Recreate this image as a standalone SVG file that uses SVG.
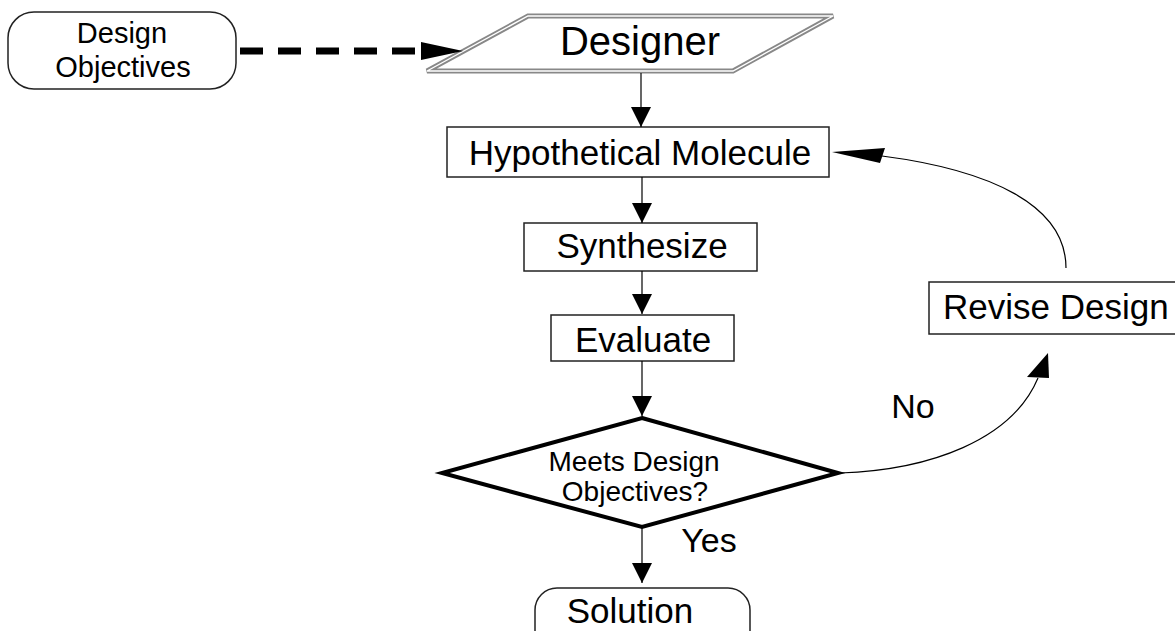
<svg xmlns="http://www.w3.org/2000/svg" width="1175" height="631" viewBox="0 0 1175 631">
  <style>
    .box { fill: #fff; stroke: #222; stroke-width: 1.5; }
    .lbl { font-family: "Liberation Sans", Arial, Helvetica, sans-serif; fill: #000; text-anchor: middle; }
    .wire { fill: none; stroke: #000; stroke-width: 1.2; }
    .head { fill: #000; stroke: none; }
  </style>
  <defs>
    <marker id="arrow" markerUnits="userSpaceOnUse" markerWidth="20" markerHeight="20" refX="20" refY="10" orient="auto">
      <path d="M0,0 L20,10 L0,20 z" fill="#000"/>
    </marker>
  </defs>
  <rect width="1175" height="631" fill="#fff"/>

  <!-- nodes -->
  <g id="design-objectives">
    <rect class="box" x="8" y="12" width="228" height="77" rx="26" ry="26"/>
    <text class="lbl" x="122" y="43" font-size="29">Design</text>
    <text class="lbl" x="123" y="77" font-size="29">Objectives</text>
  </g>

  <g id="designer">
    <polygon points="528,16 833,16 733,71 427,71" fill="#fff" stroke="#888" stroke-width="5" stroke-linejoin="miter"/>
    <polygon points="528,16 833,16 733,71 427,71" fill="none" stroke="#fff" stroke-width="1.4" stroke-linejoin="miter"/>
    <text class="lbl" x="640" y="55" font-size="40">Designer</text>
  </g>

  <g id="hypothetical-molecule">
    <rect class="box" x="447" y="127" width="382" height="50"/>
    <text class="lbl" x="640" y="165" font-size="35">Hypothetical Molecule</text>
  </g>

  <g id="synthesize">
    <rect class="box" x="524" y="223" width="233" height="48"/>
    <text class="lbl" x="642" y="258" font-size="35">Synthesize</text>
  </g>

  <g id="evaluate">
    <rect class="box" x="551" y="315" width="183" height="46"/>
    <text class="lbl" x="643" y="352" font-size="35">Evaluate</text>
  </g>

  <g id="meets-objectives">
    <polygon points="642,418 838,473 642,527 442,473" fill="#fff" stroke="#000" stroke-width="4" stroke-linejoin="miter"/>
    <text class="lbl" x="634" y="471" font-size="28">Meets Design</text>
    <text class="lbl" x="635" y="501" font-size="28">Objectives?</text>
  </g>

  <g id="revise-design">
    <rect class="box" x="929" y="282" width="260" height="52"/>
    <text class="lbl" x="943" y="319" font-size="35" style="text-anchor:start">Revise Design</text>
  </g>

  <g id="solution">
    <rect class="box" x="535" y="588" width="215" height="70" rx="22" ry="22"/>
    <text class="lbl" x="630" y="623" font-size="35">Solution</text>
  </g>

  <!-- connectors -->
  <g id="connectors">
    <line x1="240" y1="51" x2="422" y2="51" stroke="#000" stroke-width="7" stroke-dasharray="23 15"/>
    <polygon class="head" points="421,42 463,51 421,60"/>

    <line class="wire" x1="641" y1="73" x2="641" y2="127" marker-end="url(#arrow)"/>
    <line class="wire" x1="642" y1="177" x2="642" y2="223" marker-end="url(#arrow)"/>
    <line class="wire" x1="642" y1="271" x2="642" y2="314" marker-end="url(#arrow)"/>
    <line class="wire" x1="642" y1="361" x2="642" y2="416" marker-end="url(#arrow)"/>
    <line class="wire" x1="642" y1="527" x2="642" y2="583" marker-end="url(#arrow)"/>

    <path class="wire" d="M840,473 C930,470 1012,440 1038,378"/>
    <polygon class="head" points="1048,353 1049,378 1027,377"/>

    <path class="wire" d="M1066,268 C1066,205 990,170 882,156"/>
    <polygon class="head" points="832,152 885,148 880,163"/>

    <text class="lbl" x="913" y="418" font-size="34">No</text>
    <text class="lbl" x="709" y="552" font-size="34">Yes</text>
  </g>
</svg>
